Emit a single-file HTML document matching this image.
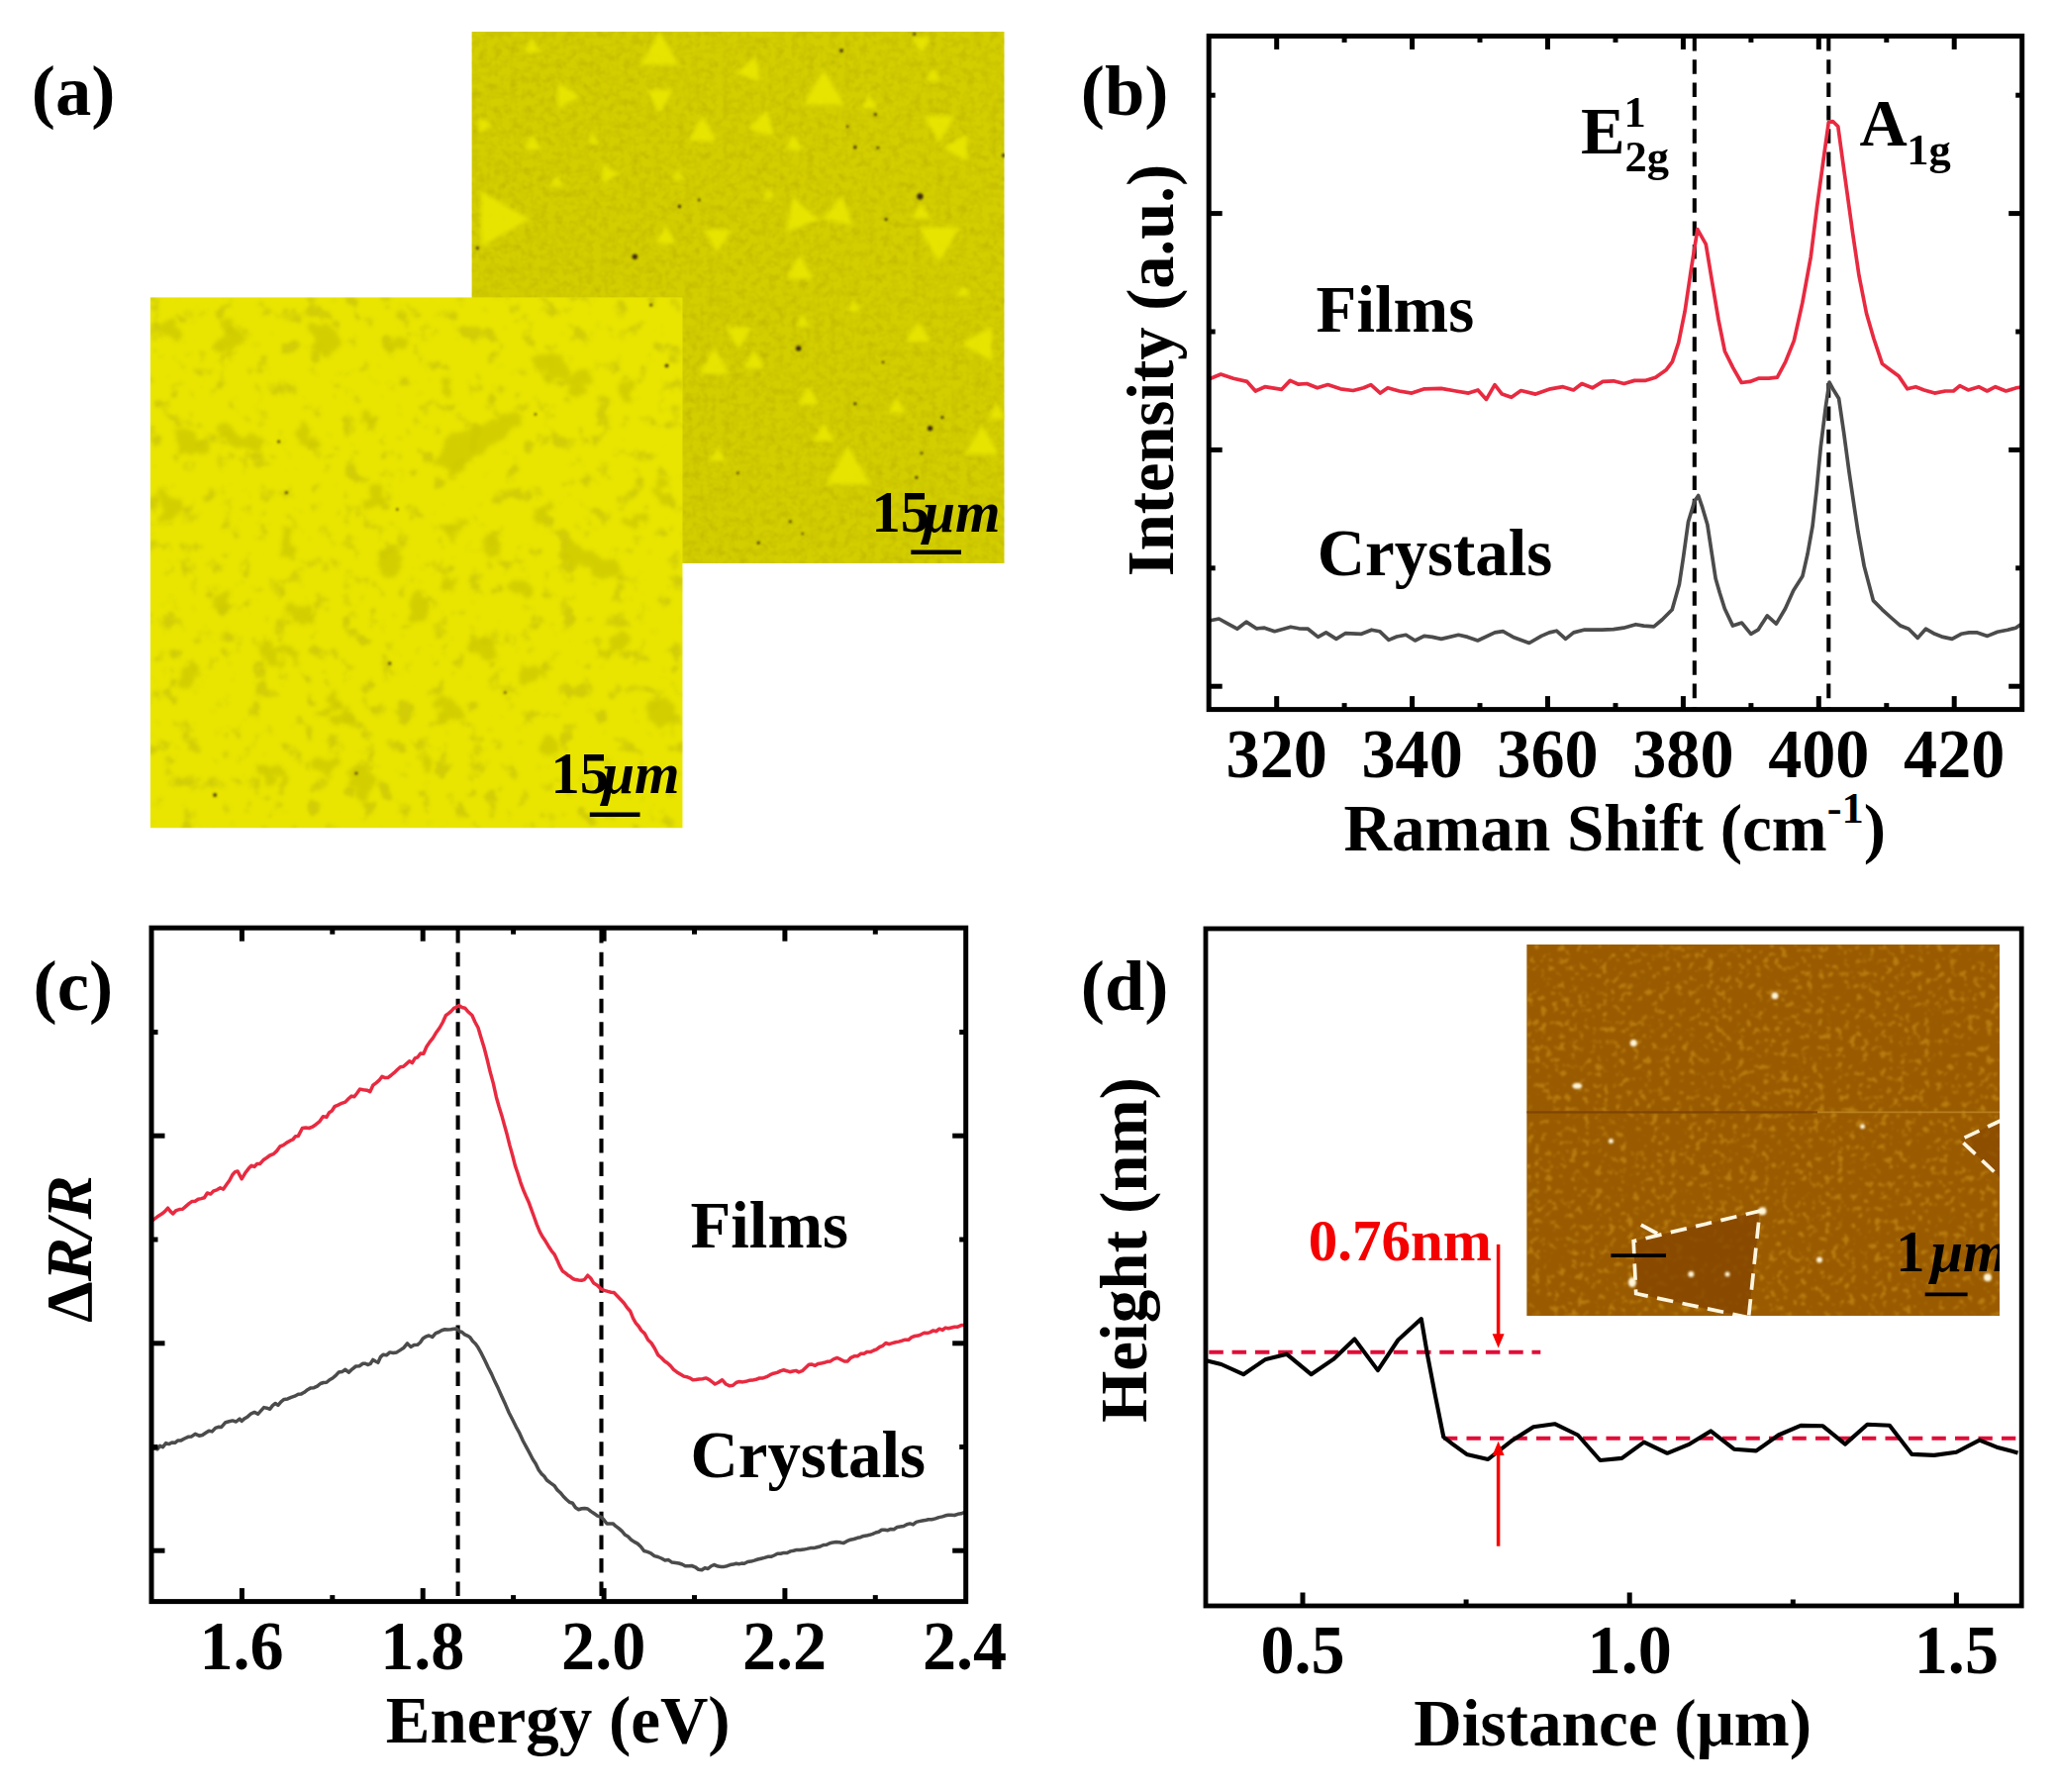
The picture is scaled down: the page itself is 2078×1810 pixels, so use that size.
<!DOCTYPE html>
<html lang="en"><head><meta charset="utf-8"><title>Figure</title>
<style>html,body{margin:0;padding:0;background:#fff}body{width:2078px;height:1810px;overflow:hidden}svg{display:block}text{font-family:'Liberation Serif','Times New Roman',serif;font-weight:bold}</style>
</head><body>
<svg width="2078" height="1810" viewBox="0 0 2078 1810">
<defs>
<filter id="blot" x="0" y="0" width="100%" height="100%" color-interpolation-filters="sRGB">
<feTurbulence type="fractalNoise" baseFrequency="0.055 0.055" numOctaves="3" seed="7" result="n"/>
<feColorMatrix in="n" type="matrix" values="0 0 0 0 0.80  0 0 0 0 0.78  0 0 0 0 0.03  4.2 4.2 0 0 -4.62" result="m"/>
<feComponentTransfer in="m" result="t"><feFuncA type="linear" slope="0.8" intercept="0"/></feComponentTransfer>
<feGaussianBlur in="t" stdDeviation="1.8" result="tb"/>
<feComposite in="tb" in2="SourceGraphic" operator="in" result="c"/>
<feMerge><feMergeNode in="SourceGraphic"/><feMergeNode in="c"/></feMerge>
</filter>
<filter id="grain" x="0" y="0" width="100%" height="100%" color-interpolation-filters="sRGB">
<feTurbulence type="fractalNoise" baseFrequency="0.13" numOctaves="2" seed="3" result="n"/>
<feColorMatrix in="n" type="matrix" values="0 0 0 0 0.74  0 0 0 0 0.71  0 0 0 0 0  0.9 0.9 0 0 -0.74" result="m"/>
<feComposite in="m" in2="SourceGraphic" operator="in" result="c"/>
<feMerge><feMergeNode in="SourceGraphic"/><feMergeNode in="c"/></feMerge>
</filter>
<filter id="afm" x="0" y="0" width="100%" height="100%" color-interpolation-filters="sRGB">
<feTurbulence type="fractalNoise" baseFrequency="0.16" numOctaves="2" seed="11" result="n"/>
<feColorMatrix in="n" type="matrix" values="0 0 0 0 0.76  0 0 0 0 0.53  0 0 0 0 0.08  5 5 0 0 -5.5" result="m"/>
<feComponentTransfer in="m" result="t"><feFuncA type="linear" slope="0.75" intercept="0"/></feComponentTransfer>
<feGaussianBlur in="t" stdDeviation="0.8" result="mb"/>
<feComposite in="mb" in2="SourceGraphic" operator="in" result="c"/>
<feMerge><feMergeNode in="SourceGraphic"/><feMergeNode in="c"/></feMerge>
</filter>
<filter id="rag" x="-5%" y="-5%" width="110%" height="110%">
<feTurbulence type="fractalNoise" baseFrequency="0.06" numOctaves="2" seed="21" result="n"/>
<feDisplacementMap in="SourceGraphic" in2="n" scale="22" xChannelSelector="R" yChannelSelector="G" result="d"/>
<feGaussianBlur in="d" stdDeviation="2.2"/>
</filter>
<filter id="soft" x="-5%" y="-5%" width="110%" height="110%"><feGaussianBlur stdDeviation="2.2"/></filter>
<filter id="soft2" x="-20%" y="-20%" width="140%" height="140%"><feGaussianBlur stdDeviation="1.0"/></filter>
<clipPath id="clipA1"><rect x="476.4" y="32" width="538.3" height="537.1"/></clipPath>
<clipPath id="clipA2"><rect x="151.7" y="300.2" width="538" height="536.2"/></clipPath>
<clipPath id="clipAFM"><rect x="1542.2" y="954" width="477.8" height="375"/></clipPath>
<clipPath id="clipB"><rect x="1221.2" y="36.4" width="821.5" height="680.2"/></clipPath>
<clipPath id="clipC"><rect x="153" y="937.2" width="822.7" height="680.4"/></clipPath>
<clipPath id="clipD"><rect x="1218" y="938" width="824.2" height="684"/></clipPath>
</defs>
<rect width="2078" height="1810" fill="#fff"/>
<text x="31.8" y="116.4" font-size="72.5" text-anchor="start" fill="#000"  style="">(a)</text>
<g clip-path="url(#clipA1)">
<rect x="476.4" y="32" width="538.3" height="537.1" fill="#d3ce00" filter="url(#grain)"/>
<g fill="#e9e700" opacity="0.9" filter="url(#soft)">
<polygon points="666.4,31.9 685.7,65.3 647.2,65.3"/>
<polygon points="763.7,56.8 768.2,82.6 743.6,73.7"/>
<polygon points="832.2,70 853,106.1 811.4,106.1"/>
<polygon points="586.4,97.1 563.7,110.2 563.7,84"/>
<polygon points="666.4,114.7 652.6,90.7 680.3,90.7"/>
<polygon points="537.5,38.2 546,52.9 529,52.9"/>
<polygon points="774.9,110.8 782.1,137.6 755.3,130.4"/>
<polygon points="709.4,117.1 724.1,142.4 694.8,142.4"/>
<polygon points="537.5,135.6 546.8,151.6 528.3,151.6"/>
<polygon points="498.2,126.3 483.5,134.8 483.5,117.8"/>
<polygon points="625.8,175.4 608.5,185.4 608.5,165.4"/>
<polygon points="801.5,135.6 810.7,151.6 792.2,151.6"/>
<polygon points="948.8,144.1 933.4,117.4 964.2,117.4"/>
<polygon points="976.8,135.4 976.8,163.2 952.8,149.3"/>
<polygon points="535.2,221.4 485.8,250 485.8,192.9"/>
<polygon points="800.6,199.1 827.8,221.9 794.5,234.1"/>
<polygon points="850.6,197.8 861.2,226.7 830.8,221.4"/>
<polygon points="724.8,255.9 710.9,231.8 738.6,231.8"/>
<polygon points="672.6,227.4 683.4,246.1 661.8,246.1"/>
<polygon points="948.8,265.4 928,229.4 969.6,229.4"/>
<polygon points="807.6,257.6 821.5,281.6 793.8,281.6"/>
<polygon points="746.2,353.2 733.1,330.5 759.3,330.5"/>
<polygon points="721.7,351 737.1,377.7 706.3,377.7"/>
<polygon points="761.6,353.2 772.4,371.9 750.8,371.9"/>
<polygon points="927.3,323.8 939.7,345.2 915,345.2"/>
<polygon points="971.3,347.3 1002,329.6 1002,365"/>
<polygon points="816.8,390.1 827.6,408.8 806,408.8"/>
<polygon points="905.9,401.1 915.1,417.1 896.6,417.1"/>
<polygon points="832.2,426.9 843,445.6 821.4,445.6"/>
<polygon points="724.8,451.1 733.2,465.7 716.3,465.7"/>
<polygon points="856.7,450.4 879.1,489.1 834.4,489.1"/>
<polygon points="991.8,429 1008.8,458.4 974.8,458.4"/>
<polygon points="930.4,54.1 921.2,38.1 939.7,38.1"/>
<polygon points="878.2,95 886.7,109.7 869.7,109.7"/>
<polygon points="930.4,204.6 939.7,220.6 921.2,220.6"/>
<polygon points="562.1,176.6 569,188.6 555.1,188.6"/>
<polygon points="973.4,287.1 980.3,299.1 966.4,299.1"/>
<polygon points="862.9,302.4 869.8,314.5 855.9,314.5"/>
<polygon points="810.7,317.8 817.6,329.8 803.8,329.8"/>
<polygon points="942.7,68.3 950.4,81.6 935,81.6"/>
<polygon points="1007.1,407.2 1016.4,423.2 997.9,423.2"/>
<polygon points="598.9,134.5 605.1,145.2 592.7,145.2"/>
<polygon points="684.9,171.3 691,182 678.7,182"/>
<polygon points="776.9,189.8 783.1,200.4 770.8,200.4"/>
</g>
<g fill="#3a2a08" filter="url(#soft2)">
<circle cx="850" cy="51.1" r="1.9"/>
<circle cx="923.7" cy="34.2" r="1.5"/>
<circle cx="884.4" cy="115.5" r="1.5"/>
<circle cx="856.1" cy="127.8" r="1.2"/>
<circle cx="863.8" cy="148.7" r="1.7"/>
<circle cx="886.8" cy="149.3" r="1.3"/>
<circle cx="686.4" cy="208.5" r="1.7"/>
<circle cx="706.3" cy="202.1" r="1.3"/>
<circle cx="929.5" cy="198.4" r="3.1"/>
<circle cx="895.1" cy="221.4" r="1.5"/>
<circle cx="641.3" cy="259.2" r="2.7"/>
<circle cx="482.3" cy="250.6" r="1.5"/>
<circle cx="657.8" cy="307.4" r="1.5"/>
<circle cx="806.7" cy="351.9" r="2.7"/>
<circle cx="672" cy="369.4" r="2.3"/>
<circle cx="892" cy="365.7" r="1.2"/>
<circle cx="863.8" cy="407.8" r="1.5"/>
<circle cx="951.9" cy="421.6" r="1.5"/>
<circle cx="939.6" cy="432.6" r="2.7"/>
<circle cx="931" cy="457.8" r="1.3"/>
<circle cx="925.8" cy="482.3" r="1.5"/>
<circle cx="629.6" cy="482.3" r="1.3"/>
<circle cx="745.3" cy="477.7" r="1.2"/>
<circle cx="798.4" cy="526.8" r="1.3"/>
<circle cx="810.7" cy="539.1" r="1.2"/>
<circle cx="766.2" cy="548.3" r="1.5"/>
<circle cx="1013.9" cy="157" r="1.9"/>
</g>
</g>
<text x="880.5" y="536.9" font-size="58.5">15<tspan font-style="italic" dx="-6.5">μm</tspan></text>
<line x1="920.3" y1="557.8" x2="971" y2="557.8" stroke="#000" stroke-width="4.6" />
<g clip-path="url(#clipA2)">
<rect x="151.7" y="300.2" width="538" height="536.2" fill="#e9e500" filter="url(#blot)"/>
<g fill="#cfca04" opacity="0.85" filter="url(#rag)">
<ellipse cx="172.9" cy="327.6" rx="10.4" ry="7.5" transform="rotate(-42 172.9 327.6)"/>
<ellipse cx="168.2" cy="335.8" rx="9.8" ry="11.6" transform="rotate(-43 168.2 335.8)"/>
<ellipse cx="172.6" cy="335.6" rx="9.7" ry="7.6" transform="rotate(-37 172.6 335.6)"/>
<ellipse cx="224.4" cy="346.1" rx="5.5" ry="9.9" transform="rotate(-17 224.4 346.1)"/>
<ellipse cx="232.3" cy="332.3" rx="6.6" ry="9.8" transform="rotate(43 232.3 332.3)"/>
<ellipse cx="234.7" cy="344.4" rx="6.9" ry="10.9" transform="rotate(-7 234.7 344.4)"/>
<ellipse cx="320.7" cy="335" rx="9.2" ry="10.9" transform="rotate(-39 320.7 335)"/>
<ellipse cx="326.7" cy="341.9" rx="13.7" ry="13.1" transform="rotate(-50 326.7 341.9)"/>
<ellipse cx="325.9" cy="336.5" rx="13.3" ry="13.1" transform="rotate(15 325.9 336.5)"/>
<ellipse cx="392.8" cy="346.3" rx="5.7" ry="5.4" transform="rotate(-21 392.8 346.3)"/>
<ellipse cx="394.2" cy="350.6" rx="4.9" ry="4.2" transform="rotate(30 394.2 350.6)"/>
<ellipse cx="403.1" cy="347.4" rx="7" ry="6.1" transform="rotate(-32 403.1 347.4)"/>
<ellipse cx="454.4" cy="386.8" rx="5.3" ry="4.6" transform="rotate(30 454.4 386.8)"/>
<ellipse cx="448.2" cy="386.7" rx="5.3" ry="5.8" transform="rotate(31 448.2 386.7)"/>
<ellipse cx="449.5" cy="394.6" rx="4.3" ry="4.2" transform="rotate(-21 449.5 394.6)"/>
<ellipse cx="369.7" cy="421.4" rx="6.6" ry="2.9" transform="rotate(-28 369.7 421.4)"/>
<ellipse cx="369.8" cy="417.3" rx="5.1" ry="2.9" transform="rotate(-14 369.8 417.3)"/>
<ellipse cx="374.7" cy="424.2" rx="4.1" ry="3.3" transform="rotate(-31 374.7 424.2)"/>
<ellipse cx="559.3" cy="372.8" rx="13.7" ry="11.8" transform="rotate(-41 559.3 372.8)"/>
<ellipse cx="548.7" cy="368" rx="10.7" ry="8.9" transform="rotate(-2 548.7 368)"/>
<ellipse cx="555.4" cy="367.3" rx="11.5" ry="10.2" transform="rotate(8 555.4 367.3)"/>
<ellipse cx="584" cy="393.4" rx="8.5" ry="9.8" transform="rotate(-38 584 393.4)"/>
<ellipse cx="588.9" cy="380.6" rx="11.3" ry="8.8" transform="rotate(-43 588.9 380.6)"/>
<ellipse cx="581.9" cy="379.8" rx="10.1" ry="9" transform="rotate(-45 581.9 379.8)"/>
<ellipse cx="636.8" cy="394.1" rx="6.7" ry="4.2" transform="rotate(17 636.8 394.1)"/>
<ellipse cx="633" cy="398.7" rx="8" ry="4.6" transform="rotate(-25 633 398.7)"/>
<ellipse cx="632.3" cy="392.2" rx="5.5" ry="5.3" transform="rotate(-19 632.3 392.2)"/>
<ellipse cx="197.4" cy="453" rx="9.4" ry="9.2" transform="rotate(-46 197.4 453)"/>
<ellipse cx="188.7" cy="448.9" rx="9.3" ry="9.5" transform="rotate(-17 188.7 448.9)"/>
<ellipse cx="186.2" cy="444.7" rx="13.6" ry="11.4" transform="rotate(22 186.2 444.7)"/>
<ellipse cx="240.7" cy="445.2" rx="13.9" ry="8.5" transform="rotate(45 240.7 445.2)"/>
<ellipse cx="231.4" cy="437.6" rx="12.4" ry="9.1" transform="rotate(23 231.4 437.6)"/>
<ellipse cx="253.5" cy="445.5" rx="11.8" ry="8" transform="rotate(32 253.5 445.5)"/>
<ellipse cx="305.6" cy="440.9" rx="4.7" ry="10.7" transform="rotate(-16 305.6 440.9)"/>
<ellipse cx="305.9" cy="440.3" rx="5.5" ry="11" transform="rotate(-15 305.9 440.3)"/>
<ellipse cx="312.8" cy="445.4" rx="4.2" ry="11.2" transform="rotate(-34 312.8 445.4)"/>
<ellipse cx="380.1" cy="500.3" rx="11" ry="8.8" transform="rotate(38 380.1 500.3)"/>
<ellipse cx="377.7" cy="504.7" rx="10.4" ry="9" transform="rotate(-23 377.7 504.7)"/>
<ellipse cx="380.7" cy="499.5" rx="7.5" ry="7.8" transform="rotate(-18 380.7 499.5)"/>
<ellipse cx="544.5" cy="517.5" rx="8.5" ry="8.9" transform="rotate(20 544.5 517.5)"/>
<ellipse cx="543.6" cy="519.6" rx="6" ry="7.8" transform="rotate(21 543.6 519.6)"/>
<ellipse cx="554.2" cy="512.5" rx="7.5" ry="5.5" transform="rotate(-46 554.2 512.5)"/>
<ellipse cx="462.6" cy="532" rx="3.8" ry="9.6" transform="rotate(49 462.6 532)"/>
<ellipse cx="458.5" cy="537.5" rx="4.2" ry="11.2" transform="rotate(-49 458.5 537.5)"/>
<ellipse cx="459.6" cy="537.2" rx="2.8" ry="13.8" transform="rotate(8 459.6 537.2)"/>
<ellipse cx="493.8" cy="555.1" rx="4.1" ry="7.9" transform="rotate(12 493.8 555.1)"/>
<ellipse cx="498.2" cy="547.9" rx="3.6" ry="11.2" transform="rotate(-4 498.2 547.9)"/>
<ellipse cx="495" cy="548.5" rx="5.5" ry="10.6" transform="rotate(-42 495 548.5)"/>
<ellipse cx="290.7" cy="548.7" rx="5.9" ry="11.3" transform="rotate(11 290.7 548.7)"/>
<ellipse cx="288.4" cy="546" rx="4.5" ry="11" transform="rotate(-28 288.4 546)"/>
<ellipse cx="291.5" cy="537.4" rx="6.6" ry="8" transform="rotate(-50 291.5 537.4)"/>
<ellipse cx="392.1" cy="562.1" rx="9.9" ry="9.4" transform="rotate(12 392.1 562.1)"/>
<ellipse cx="393.8" cy="573.1" rx="11.2" ry="9.3" transform="rotate(2 393.8 573.1)"/>
<ellipse cx="395.2" cy="568.6" rx="12.6" ry="11.6" transform="rotate(30 395.2 568.6)"/>
<ellipse cx="585.5" cy="561.4" rx="16.8" ry="11.3" transform="rotate(9 585.5 561.4)"/>
<ellipse cx="607.1" cy="572.8" rx="17" ry="11.1" transform="rotate(6 607.1 572.8)"/>
<ellipse cx="602.4" cy="570" rx="11.2" ry="12.6" transform="rotate(-4 602.4 570)"/>
<ellipse cx="456.4" cy="585.1" rx="4.4" ry="4.9" transform="rotate(36 456.4 585.1)"/>
<ellipse cx="454.8" cy="583.6" rx="5.6" ry="4.3" transform="rotate(23 454.8 583.6)"/>
<ellipse cx="454.6" cy="588.2" rx="5.5" ry="3.6" transform="rotate(32 454.6 588.2)"/>
<ellipse cx="424.6" cy="607.1" rx="8" ry="10" transform="rotate(-12 424.6 607.1)"/>
<ellipse cx="423.8" cy="616.5" rx="7.5" ry="12.5" transform="rotate(-39 423.8 616.5)"/>
<ellipse cx="422.6" cy="621" rx="9.1" ry="9" transform="rotate(24 422.6 621)"/>
<ellipse cx="308.7" cy="623.3" rx="9.3" ry="7.1" transform="rotate(-36 308.7 623.3)"/>
<ellipse cx="296.7" cy="620" rx="8.9" ry="7.8" transform="rotate(50 296.7 620)"/>
<ellipse cx="306.4" cy="616.7" rx="9" ry="8.7" transform="rotate(26 306.4 616.7)"/>
<ellipse cx="487" cy="650.9" rx="7.8" ry="8.6" transform="rotate(45 487 650.9)"/>
<ellipse cx="488.6" cy="653.4" rx="11.6" ry="11.2" transform="rotate(1 488.6 653.4)"/>
<ellipse cx="492" cy="659.7" rx="8.3" ry="8.9" transform="rotate(25 492 659.7)"/>
<ellipse cx="533.8" cy="678.2" rx="7.5" ry="6.1" transform="rotate(28 533.8 678.2)"/>
<ellipse cx="545.8" cy="680.7" rx="6.9" ry="4.1" transform="rotate(15 545.8 680.7)"/>
<ellipse cx="534.6" cy="687" rx="9.3" ry="6.8" transform="rotate(27 534.6 687)"/>
<ellipse cx="345.8" cy="723.1" rx="8.4" ry="9.1" transform="rotate(31 345.8 723.1)"/>
<ellipse cx="347.7" cy="722.7" rx="8.5" ry="7.5" transform="rotate(-20 347.7 722.7)"/>
<ellipse cx="335.1" cy="708.7" rx="5.6" ry="8.7" transform="rotate(24 335.1 708.7)"/>
<ellipse cx="461.4" cy="719.1" rx="11.5" ry="4.8" transform="rotate(17 461.4 719.1)"/>
<ellipse cx="453.4" cy="721.3" rx="7.8" ry="6.8" transform="rotate(-40 453.4 721.3)"/>
<ellipse cx="451.1" cy="713.7" rx="11.6" ry="4.9" transform="rotate(30 451.1 713.7)"/>
<ellipse cx="670.5" cy="723.7" rx="10" ry="13.7" transform="rotate(40 670.5 723.7)"/>
<ellipse cx="670.8" cy="719.9" rx="10.2" ry="12.4" transform="rotate(20 670.8 719.9)"/>
<ellipse cx="660.5" cy="716.6" rx="7.8" ry="9.9" transform="rotate(14 660.5 716.6)"/>
<ellipse cx="189.3" cy="684.8" rx="6.6" ry="8" transform="rotate(0 189.3 684.8)"/>
<ellipse cx="194.5" cy="687.3" rx="5.2" ry="7.6" transform="rotate(-43 194.5 687.3)"/>
<ellipse cx="193.3" cy="682.3" rx="6.6" ry="6.8" transform="rotate(-31 193.3 682.3)"/>
<ellipse cx="320" cy="769.6" rx="7.8" ry="4.1" transform="rotate(-21 320 769.6)"/>
<ellipse cx="326.9" cy="773.6" rx="8.2" ry="4.6" transform="rotate(7 326.9 773.6)"/>
<ellipse cx="333.4" cy="776.1" rx="9" ry="6.8" transform="rotate(-2 333.4 776.1)"/>
<ellipse cx="362.4" cy="786.2" rx="11.2" ry="7.7" transform="rotate(10 362.4 786.2)"/>
<ellipse cx="368.6" cy="799.8" rx="9.9" ry="9.9" transform="rotate(2 368.6 799.8)"/>
<ellipse cx="368.2" cy="783.7" rx="11.8" ry="8" transform="rotate(34 368.2 783.7)"/>
<ellipse cx="274.9" cy="783.1" rx="5.5" ry="6.5" transform="rotate(-40 274.9 783.1)"/>
<ellipse cx="278.2" cy="784.3" rx="6.7" ry="6" transform="rotate(39 278.2 784.3)"/>
<ellipse cx="268.8" cy="778" rx="5.5" ry="6.9" transform="rotate(-40 268.8 778)"/>
<ellipse cx="638.7" cy="524.1" rx="5.6" ry="5.4" transform="rotate(41 638.7 524.1)"/>
<ellipse cx="639.5" cy="525.5" rx="4.3" ry="5.3" transform="rotate(-33 639.5 525.5)"/>
<ellipse cx="644.4" cy="524.7" rx="6.9" ry="5.4" transform="rotate(15 644.4 524.7)"/>
<ellipse cx="670.5" cy="488.2" rx="4.7" ry="6.5" transform="rotate(-48 670.5 488.2)"/>
<ellipse cx="671.1" cy="501.5" rx="4.1" ry="8.1" transform="rotate(-23 671.1 501.5)"/>
<ellipse cx="665.2" cy="500.3" rx="6.3" ry="8.6" transform="rotate(-12 665.2 500.3)"/>
<ellipse cx="170.4" cy="513.5" rx="5.2" ry="11.4" transform="rotate(13 170.4 513.5)"/>
<ellipse cx="171.7" cy="516.9" rx="6.6" ry="12.3" transform="rotate(38 171.7 516.9)"/>
<ellipse cx="164.1" cy="501.8" rx="6.1" ry="12.5" transform="rotate(-23 164.1 501.8)"/>
<ellipse cx="272.5" cy="661.5" rx="13.6" ry="4.9" transform="rotate(46 272.5 661.5)"/>
<ellipse cx="292.2" cy="662.2" rx="13.6" ry="5.3" transform="rotate(46 292.2 662.2)"/>
<ellipse cx="285.8" cy="654.5" rx="11.1" ry="4.1" transform="rotate(-17 285.8 654.5)"/>
<ellipse cx="625.6" cy="650.2" rx="8.9" ry="6.8" transform="rotate(-10 625.6 650.2)"/>
<ellipse cx="617" cy="654.2" rx="6.8" ry="5" transform="rotate(-23 617 654.2)"/>
<ellipse cx="631" cy="644.8" rx="7" ry="6.9" transform="rotate(47 631 644.8)"/>
<ellipse cx="553" cy="753.1" rx="8.1" ry="9.3" transform="rotate(-29 553 753.1)"/>
<ellipse cx="552.6" cy="755.7" rx="6.5" ry="8.5" transform="rotate(-10 552.6 755.7)"/>
<ellipse cx="556" cy="756.4" rx="9" ry="9" transform="rotate(-41 556 756.4)"/>
<ellipse cx="224.1" cy="608.3" rx="8.9" ry="7.3" transform="rotate(46 224.1 608.3)"/>
<ellipse cx="225.7" cy="597.8" rx="6.2" ry="4.8" transform="rotate(-9 225.7 597.8)"/>
<ellipse cx="223.7" cy="605" rx="8.4" ry="7.6" transform="rotate(-30 223.7 605)"/>
<ellipse cx="524.4" cy="592.6" rx="8" ry="6.9" transform="rotate(37 524.4 592.6)"/>
<ellipse cx="534.3" cy="600.5" rx="7" ry="4.8" transform="rotate(35 534.3 600.5)"/>
<ellipse cx="530.9" cy="595.7" rx="7.6" ry="6.4" transform="rotate(0 530.9 595.7)"/>
<ellipse cx="433.2" cy="774.3" rx="6.6" ry="5.1" transform="rotate(45 433.2 774.3)"/>
<ellipse cx="432.3" cy="768.7" rx="7.9" ry="4.6" transform="rotate(-5 432.3 768.7)"/>
<ellipse cx="429.9" cy="770.9" rx="6.7" ry="4.6" transform="rotate(29 429.9 770.9)"/>
<polygon points="436.6,466.9 455,479.2 528.7,423.9 513.3,414.7 476.5,433.1 448.9,448.5"/>
</g>
<g fill="#4a3a08" filter="url(#soft2)">
<circle cx="673.5" cy="369.3" r="1.9"/>
<circle cx="281.6" cy="446" r="1.5"/>
<circle cx="289.3" cy="497.6" r="1.5"/>
<circle cx="217.1" cy="803" r="1.9"/>
<circle cx="359.9" cy="780.9" r="1.5"/>
<circle cx="393.6" cy="670.1" r="1.5"/>
<circle cx="722" cy="480.7" r="1.3"/>
<circle cx="540.9" cy="418.4" r="1.2"/>
<circle cx="401.3" cy="514.5" r="1.2"/>
<circle cx="657.6" cy="307.9" r="1.5"/>
<circle cx="510.3" cy="699.5" r="1.2"/>
</g>
</g>
<text x="556.5" y="800.5" font-size="58.5">15<tspan font-style="italic" dx="-6.5">μm</tspan></text>
<line x1="595.8" y1="822.8" x2="646.5" y2="822.8" stroke="#000" stroke-width="4.6" />
<text x="1091.8" y="116.4" font-size="72.5" text-anchor="start" fill="#000"  style="">(b)</text>
<g clip-path="url(#clipB)">
<line x1="1711.8" y1="36.8" x2="1711.8" y2="716.6" stroke="#000" stroke-width="4.1" stroke-dasharray="14.6 8.75"/>
<line x1="1847.3" y1="36.8" x2="1847.3" y2="716.6" stroke="#000" stroke-width="4.1" stroke-dasharray="14.6 8.75"/>
<polyline points="1221.2,627 1231.4,625 1240.6,630.1 1249.8,635.2 1259,628.1 1269.2,634.8 1277.4,634.2 1287.6,637.7 1303.9,633.2 1312.1,634.8 1321.3,635.2 1331.5,643.4 1339.6,638.9 1349.9,645.4 1359,639.7 1375.4,640.3 1385.6,636.2 1393.7,637.7 1402.9,646.4 1411.1,643 1420.3,641.3 1429.5,647 1438.7,642.4 1446.8,643.4 1456,645.4 1473.4,641.3 1482.6,643.4 1492.8,647 1510.1,638.9 1518.3,637.7 1528.5,643.4 1544.8,649.5 1557.1,642.4 1565.2,638.9 1572.4,637.2 1581.6,645.4 1589.7,638.9 1600,636.2 1618.3,636.2 1630,635.6 1640.2,634.2 1652.5,630.7 1660.6,632.1 1670.8,632.8 1679,626 1689.2,615.8 1696.4,590.3 1700.4,563.7 1705.5,527 1711.7,506.6 1715.7,500.5 1719.8,512.7 1724.9,530.1 1730,563.7 1733.1,584.2 1737.2,598.5 1742.3,614.8 1750.5,632.1 1759.6,629.1 1768.8,640.3 1776,636.2 1785.2,621.9 1794.4,630.1 1803.5,614.8 1811.7,596.4 1820.9,582.1 1826,559.7 1831.1,531.1 1835.2,494.3 1839.3,451.5 1844.4,410.6 1848,386.1 1852.5,394.3 1857.6,402.5 1862.7,437.2 1867.9,476 1873,510.7 1877,537.2 1883.2,571.9 1892.4,606.6 1901.5,615.8 1911.7,625 1919.9,632.1 1928.1,635.2 1937.3,644.4 1945.4,635.2 1954.6,640.3 1962.8,643.4 1972,645.4 1981.2,640.3 1989.3,638.9 1997.5,638.9 2007.7,642.4 2017.9,638.3 2028.1,636.2 2036.3,634.2 2042.4,630.1" fill="none" stroke="#4b4b4b" stroke-width="3.7" stroke-linejoin="round" stroke-linecap="butt" />
<polyline points="1221.7,382.7 1233.3,378 1246,382.2 1259.8,385.4 1268.3,395 1277.8,390.7 1294.8,393.3 1303.3,384.4 1311.8,388.2 1320.2,387.5 1330.8,391.8 1341.4,388.6 1354.2,392.8 1366.9,394.5 1377.5,391.8 1384.9,388.6 1394.4,397.1 1401.9,391.8 1413.5,395 1426.2,397.1 1439,392.8 1455.9,392.4 1470.8,395 1483.5,397.1 1493,393.9 1501.5,403.4 1510,388.6 1517.4,398.1 1526.9,401.3 1536.5,394.5 1551.3,398.1 1566.2,392.8 1578.9,390.7 1589.5,393.9 1598,387.5 1608.6,391.8 1619.2,385.4 1630,384.8 1640.6,387.5 1651.2,384.4 1661.8,384.4 1672.4,381.2 1683,373.8 1689.4,365.3 1695.7,346.2 1702.1,314.4 1708.4,272 1714.8,231.7 1723.3,246.6 1729.6,284.7 1736,322.9 1742.4,354.7 1750.8,371.6 1759.3,386.5 1767.8,385.4 1776.3,382.2 1786.9,382.2 1795.4,381.2 1803.8,365.3 1812.3,344.1 1820.8,305.9 1829.3,259.3 1835.6,208.4 1842,161.8 1847.3,123.6 1851.5,122.5 1856.8,127.8 1863.2,174.5 1871.7,236 1878,278.4 1885.5,316.5 1892.9,342 1901.4,367.4 1909.8,373.8 1918.3,380.1 1926.8,392.8 1935.3,390.7 1943.8,393.9 1954.4,397.1 1965,395 1973.4,395 1979.8,389.7 1988.3,393.9 1998.9,390.7 2007.4,395 2015.8,390.7 2026.4,395 2037,391.8 2043.4,390.7" fill="none" stroke="#e82a40" stroke-width="3.7" stroke-linejoin="round" stroke-linecap="butt" />
</g>
<line x1="1289.7" y1="716.6" x2="1289.7" y2="703.1" stroke="#000" stroke-width="5" />
<line x1="1289.7" y1="36.4" x2="1289.7" y2="49.9" stroke="#000" stroke-width="5" />
<line x1="1358.1" y1="716.6" x2="1358.1" y2="710.1" stroke="#000" stroke-width="5" />
<line x1="1358.1" y1="36.4" x2="1358.1" y2="42.9" stroke="#000" stroke-width="5" />
<line x1="1426.6" y1="716.6" x2="1426.6" y2="703.1" stroke="#000" stroke-width="5" />
<line x1="1426.6" y1="36.4" x2="1426.6" y2="49.9" stroke="#000" stroke-width="5" />
<line x1="1495" y1="716.6" x2="1495" y2="710.1" stroke="#000" stroke-width="5" />
<line x1="1495" y1="36.4" x2="1495" y2="42.9" stroke="#000" stroke-width="5" />
<line x1="1563.5" y1="716.6" x2="1563.5" y2="703.1" stroke="#000" stroke-width="5" />
<line x1="1563.5" y1="36.4" x2="1563.5" y2="49.9" stroke="#000" stroke-width="5" />
<line x1="1632" y1="716.6" x2="1632" y2="710.1" stroke="#000" stroke-width="5" />
<line x1="1632" y1="36.4" x2="1632" y2="42.9" stroke="#000" stroke-width="5" />
<line x1="1700.4" y1="716.6" x2="1700.4" y2="703.1" stroke="#000" stroke-width="5" />
<line x1="1700.4" y1="36.4" x2="1700.4" y2="49.9" stroke="#000" stroke-width="5" />
<line x1="1768.9" y1="716.6" x2="1768.9" y2="710.1" stroke="#000" stroke-width="5" />
<line x1="1768.9" y1="36.4" x2="1768.9" y2="42.9" stroke="#000" stroke-width="5" />
<line x1="1837.3" y1="716.6" x2="1837.3" y2="703.1" stroke="#000" stroke-width="5" />
<line x1="1837.3" y1="36.4" x2="1837.3" y2="49.9" stroke="#000" stroke-width="5" />
<line x1="1905.8" y1="716.6" x2="1905.8" y2="710.1" stroke="#000" stroke-width="5" />
<line x1="1905.8" y1="36.4" x2="1905.8" y2="42.9" stroke="#000" stroke-width="5" />
<line x1="1974.2" y1="716.6" x2="1974.2" y2="703.1" stroke="#000" stroke-width="5" />
<line x1="1974.2" y1="36.4" x2="1974.2" y2="49.9" stroke="#000" stroke-width="5" />
<line x1="1221.2" y1="96.2" x2="1227.7" y2="96.2" stroke="#000" stroke-width="5" />
<line x1="2042.7" y1="96.2" x2="2036.2" y2="96.2" stroke="#000" stroke-width="5" />
<line x1="1221.2" y1="215.6" x2="1234.7" y2="215.6" stroke="#000" stroke-width="5" />
<line x1="2042.7" y1="215.6" x2="2029.2" y2="215.6" stroke="#000" stroke-width="5" />
<line x1="1221.2" y1="335" x2="1227.7" y2="335" stroke="#000" stroke-width="5" />
<line x1="2042.7" y1="335" x2="2036.2" y2="335" stroke="#000" stroke-width="5" />
<line x1="1221.2" y1="454.4" x2="1234.7" y2="454.4" stroke="#000" stroke-width="5" />
<line x1="2042.7" y1="454.4" x2="2029.2" y2="454.4" stroke="#000" stroke-width="5" />
<line x1="1221.2" y1="573.8" x2="1227.7" y2="573.8" stroke="#000" stroke-width="5" />
<line x1="2042.7" y1="573.8" x2="2036.2" y2="573.8" stroke="#000" stroke-width="5" />
<line x1="1221.2" y1="693.2" x2="1234.7" y2="693.2" stroke="#000" stroke-width="5" />
<line x1="2042.7" y1="693.2" x2="2029.2" y2="693.2" stroke="#000" stroke-width="5" />
<rect x="1221.2" y="36.4" width="821.5" height="680.2" fill="none" stroke="#000" stroke-width="5"/>
<text transform="translate(1289.7,785.2) scale(1,1.025)" font-size="68.2" text-anchor="middle">320</text>
<text transform="translate(1426.6,785.2) scale(1,1.025)" font-size="68.2" text-anchor="middle">340</text>
<text transform="translate(1563.5,785.2) scale(1,1.025)" font-size="68.2" text-anchor="middle">360</text>
<text transform="translate(1700.4,785.2) scale(1,1.025)" font-size="68.2" text-anchor="middle">380</text>
<text transform="translate(1837.3,785.2) scale(1,1.025)" font-size="68.2" text-anchor="middle">400</text>
<text transform="translate(1974.2,785.2) scale(1,1.025)" font-size="68.2" text-anchor="middle">420</text>
<text x="1631.3" y="858.5" font-size="67.1" text-anchor="middle">Raman Shift (cm<tspan font-size="44.5" dy="-28">-1</tspan><tspan dy="28">)</tspan></text>
<text transform="translate(1184.9,374) rotate(-90)" font-size="66.6" text-anchor="middle">Intensity (a.u.)</text>
<text x="1329.6" y="334.5" font-size="66.8" text-anchor="start" fill="#000"  style="">Films</text>
<text x="1330.8" y="581.1" font-size="66.8" text-anchor="start" fill="#000"  style="">Crystals</text>
<text x="1596.9" y="155.1" font-size="66.8">E<tspan font-size="44.5" dy="18.2">2g</tspan></text>
<text x="1640.4" y="127.8" font-size="44.5">1</text>
<text x="1878.5" y="146.9" font-size="66.8">A<tspan font-size="44.5" dy="19" dx="-0.5">1g</tspan></text>
<text x="33.6" y="1020.3" font-size="72.5" text-anchor="start" fill="#000"  style="">(c)</text>
<g clip-path="url(#clipC)">
<line x1="462.6" y1="938.1" x2="462.6" y2="1617.6" stroke="#000" stroke-width="4.1" stroke-dasharray="14.5 9.05"/>
<line x1="607.5" y1="938.1" x2="607.5" y2="1617.6" stroke="#000" stroke-width="4.1" stroke-dasharray="14.5 9.05"/>
<polyline points="153.3,1463.7 156.1,1463 158.9,1463.8 161.7,1460.4 164.5,1461.6 167.6,1457.6 170.6,1458.6 173.7,1457 176.7,1457.3 179.8,1454.9 182.9,1454.9 186.4,1453 190,1451.3 193.6,1450.9 197.2,1448.3 201.2,1450.2 204.5,1449.5 207.8,1447.3 211,1445.2 214.3,1445.9 217.6,1442.4 220.6,1441.3 223.7,1441.4 227.8,1436.7 231.4,1435.8 234.9,1434.9 238.5,1436 242.1,1433.1 244.1,1435.3 247.2,1432.7 250.2,1430.9 253.7,1427.8 257.1,1426.4 260.5,1428.2 262.5,1426.1 266.6,1421.6 269.6,1422.2 272.7,1423.3 275.4,1419.6 278.2,1417.5 280.9,1419.4 283.9,1415.8 287,1413.4 290.6,1412.9 294.1,1411.4 297.7,1410.2 301.3,1408.2 304.4,1407.9 307.4,1406.3 310.7,1403.7 313.9,1401.9 317.2,1401.7 320.5,1400.2 323.7,1397.5 326.8,1396.5 329.9,1396.3 332.9,1393.7 336,1392 339.1,1389.4 342.1,1386.1 345.5,1385.6 348.9,1383.3 352.3,1386.1 355.9,1382.8 359.5,1380 363.1,1379.7 366.6,1377.3 369.2,1377.3 371.7,1378.5 374.3,1377.3 376.8,1373.4 379.4,1375 381.9,1376.3 384.5,1370.6 387,1368.3 390.4,1368.8 393.8,1365.9 397.2,1366.5 400.8,1365.9 404.4,1363.6 408,1361.2 411.5,1356.9 414.9,1360.4 418.3,1358.4 421.7,1358.3 424.5,1356 427.2,1352 429.9,1350.2 433.3,1349 436.7,1350.5 440.1,1346.6 443.2,1345.5 446.2,1343.7 449.3,1342.8 452.4,1342.9 455.4,1342.8 458.5,1342.2 461.2,1342 463.9,1344.6 466.7,1345.5 469.4,1347.9 472.1,1349.1 474.8,1350.7 477.6,1354.8 480.3,1357.3 483,1361.1 486.4,1367.2 489.8,1374.1 493.2,1381.2 496.6,1387.9 500,1395.6 503.4,1402.6 507,1410.8 510.6,1418.6 514.1,1426.8 517.7,1433.8 521.3,1441.1 524.9,1447.7 528.4,1455.5 532,1462.1 535.1,1467.9 538.1,1473.8 541.2,1478.4 544.2,1484.7 547,1488.6 549.7,1491 552.4,1495 556.2,1497.9 560,1500.6 563,1504.9 566.1,1507.7 569.2,1511.5 572.2,1514.5 575.3,1517.3 578.4,1518.2 581.4,1522.8 584.5,1524.7 587.6,1523.8 590.6,1523.5 593.7,1524 597,1526.6 600.3,1528.8 603.6,1531.1 607,1532.1 610,1535.1 613.1,1539 616.1,1539.1 619.2,1538.9 622.3,1541.7 625.3,1543.9 628.4,1546.6 631.5,1550.3 634.5,1552 637.6,1555.2 640.8,1557.4 644.1,1559.1 647.4,1562.2 650.6,1566.5 653.9,1567.4 657.5,1568.8 661.1,1571.6 664.6,1572.5 668.2,1574 671.8,1576.1 675.4,1575.6 678.9,1578.1 682.5,1578.5 685.8,1579 689,1580 692.3,1581.8 695.6,1581.8 698.8,1581.5 702.2,1582.8 705.6,1585.2 709,1585.8 712.1,1583.6 715.2,1584.5 718.2,1582 721.3,1580.5 725.4,1582.1 728.4,1582.4 731.5,1582.4 734.6,1581.7 737.6,1580.6 740.7,1580.1 743.7,1579.3 746.5,1579.7 749.2,1579.1 751.9,1579.2 755.3,1577.5 758.7,1577.1 762.1,1576.1 765.5,1575 768.9,1574.2 772.3,1573.4 775.6,1572.3 778.9,1572.3 782.1,1571 785.4,1569.2 788.7,1569.2 791.9,1568.4 795.2,1568.5 798.5,1566.9 801.7,1566.3 805,1565.4 808.4,1565.4 811.8,1565.1 815.2,1564.4 818.6,1563.6 822,1563.6 825.4,1562.8 828.6,1562 831.8,1560.5 835,1560.3 838.2,1558.7 841.5,1557.9 844.7,1557.6 847.9,1557.8 852,1558.6 855.5,1556.7 859.1,1555.2 862.7,1554.5 866.2,1553.3 869.3,1552.7 872.4,1551.4 875.4,1551.1 878.5,1550.3 881.6,1549.3 884.6,1548 887.7,1547.3 890.7,1545.2 893.8,1545.3 896.9,1545.7 899.9,1544.4 903,1544.7 906.3,1542.6 909.5,1542.1 912.8,1541.6 916.1,1539.7 919.3,1538.9 922.4,1539.9 925.5,1537.4 928.5,1536.6 931.6,1536 934.6,1535.6 937.7,1534.8 941.3,1534.7 944.9,1533.9 948.4,1532.6 952,1531.9 955.1,1530.8 958.1,1530.3 961.2,1530.2 964.2,1530.5 967.6,1529.3 971.1,1528.8 974.5,1527.4" fill="none" stroke="#4b4b4b" stroke-width="3.5" stroke-linejoin="round" stroke-linecap="butt" />
<polyline points="153.3,1233.2 156.8,1230.6 160.4,1227.9 163.5,1226.1 166.5,1223.6 169.6,1220.2 172.2,1223.6 174.7,1225.9 178,1222.6 181.2,1221.6 184.5,1221.3 187.8,1218.4 191,1215.6 194.1,1213.4 197.2,1213.2 200.2,1211.2 203.3,1210.6 206.4,1209.8 209.4,1205 212.7,1206.1 215.9,1202.8 219.2,1201.8 222.5,1199.8 225.7,1201.1 228.8,1196.5 231.9,1192.2 234.9,1186.5 237.5,1183.6 240,1182.9 244.1,1190.8 247.7,1184.8 251.3,1180.1 254.1,1177.3 256.9,1178.5 259.7,1175.5 262.5,1175.6 265.9,1171.8 269.3,1169.5 272.7,1167 276.1,1165.7 279.5,1162.6 282.9,1158 286.3,1156.7 289.7,1154.1 293.1,1152.2 295.8,1151 298.6,1147.7 301.3,1147.4 305.4,1139.5 308.8,1139 312.2,1139.5 315.6,1138.2 319.2,1135.7 322.7,1132.9 326.3,1127.7 329.9,1128.3 332.6,1123.7 335.3,1122 338,1117.7 341.6,1116.1 345.2,1114.3 348.8,1113.1 352.3,1109.5 355.1,1107.1 357.9,1107.8 360.8,1104 363.6,1100.1 367.1,1100.8 370.7,1101.2 373.8,1102.7 376.8,1096.2 379.9,1093.8 383,1091.2 386,1087.3 389.1,1088.6 392.1,1088.4 395.2,1086 398.3,1083.4 401.3,1080.5 404.4,1077.8 407.5,1077.3 410.5,1074.6 413.6,1071.7 416.4,1073.6 419.2,1068.9 422,1067.8 424.8,1064 427.9,1064.3 430.9,1057.3 434,1052.6 437.4,1048.3 440.8,1042.7 444.2,1038 447.3,1032.5 450.3,1025.7 453.1,1023.6 455.8,1021.4 458.5,1018.4 461,1017.3 463.6,1015.6 466.7,1017.5 469.7,1018.2 473.3,1022.3 476.9,1025.5 479.9,1032.2 483,1038 486.1,1048.6 489.1,1058.2 492.2,1070.2 495.2,1082.8 498.3,1094.1 501.4,1108.2 504.1,1117.7 506.8,1126.4 509.5,1136.2 512.3,1146.3 515,1157.1 517.7,1166.7 520.4,1177.4 523.1,1185.2 525.9,1194.3 528.6,1201.7 531.3,1208 534,1213.9 536.8,1221.7 539.5,1229 542.2,1236.6 545.3,1244.2 548.3,1249.6 551.2,1253.8 554.1,1258.7 557.1,1263.3 560,1266.8 562.7,1272.4 565.4,1278.6 568.2,1283.7 570.9,1285.6 573.6,1287.9 576.3,1289.6 579.1,1291.8 581.8,1292.6 584.5,1293 587.6,1293.3 590.6,1292.3 593.7,1288.2 596.7,1291 599.8,1296.1 603.4,1298.2 607,1301.9 610.5,1303.3 614.1,1304.4 617.2,1305.2 620.2,1305.6 623.8,1309.2 627.4,1313 630.4,1316.3 633.5,1320.8 636.6,1324.2 639.6,1331.6 642.3,1336.3 645.1,1339.5 647.8,1343.8 651.2,1346.9 654.6,1353.3 658,1356.5 661.4,1362 664.8,1368.6 668.2,1371.5 671.3,1374.8 674.3,1376.8 677.4,1379.6 680.5,1383.3 683.9,1385.9 687.3,1388 690.7,1390.1 693.7,1390.7 696.8,1391.8 699.9,1393.7 702.9,1393.5 706.3,1393 709.7,1392.7 713.1,1391.9 716.2,1393.3 719.2,1395.7 722.3,1398 725.9,1396.2 729.5,1393.7 733.3,1398 737.2,1399.8 740.5,1399.3 743.7,1396.5 747,1395.4 750.3,1395.9 753.5,1395.3 756.8,1394.3 760.1,1394.1 763.7,1393.3 767.2,1392 770.8,1391.9 774.4,1390.7 777.9,1388.7 781.5,1387.2 785.1,1386.4 788.7,1384.6 791.7,1383.8 794.8,1384.7 797.9,1385.7 800.9,1385 804,1384.4 807,1385.9 810.4,1384.7 813.8,1381.5 817.2,1378.3 820.3,1378.1 823.4,1379.3 826.4,1377.4 829.5,1377.1 832.6,1376.3 835.6,1375.3 839,1374.9 842.4,1372.6 845.8,1371.5 849.4,1373.2 853,1375 856.3,1374.9 859.6,1371.3 862.9,1369.8 866.2,1369.8 869.5,1367.3 872.8,1367.2 876,1365.4 879.3,1365.6 882.6,1364 885.6,1362.9 888.7,1360.5 891.8,1359.3 894.8,1356.5 898.1,1357.7 901.4,1356.7 904.6,1355.8 907.9,1355.1 911.2,1354.2 914.4,1353.2 917.7,1353.3 921,1350.6 924.2,1349.5 927.5,1349.1 930.6,1347.8 933.6,1346.3 936.7,1346.6 939.7,1345.6 942.8,1343.9 945.9,1344.7 948.9,1342.2 952,1343.5 955.1,1341.1 958.1,1341.8 961.2,1341 964.2,1340.3 967.6,1340.2 971.1,1338.6 974.5,1338.5" fill="none" stroke="#e82a40" stroke-width="3.5" stroke-linejoin="round" stroke-linecap="butt" />
</g>
<line x1="244.4" y1="1617.6" x2="244.4" y2="1604.1" stroke="#000" stroke-width="5" />
<line x1="244.4" y1="937.2" x2="244.4" y2="950.7" stroke="#000" stroke-width="5" />
<line x1="335.8" y1="1617.6" x2="335.8" y2="1611.1" stroke="#000" stroke-width="5" />
<line x1="335.8" y1="937.2" x2="335.8" y2="943.7" stroke="#000" stroke-width="5" />
<line x1="427.2" y1="1617.6" x2="427.2" y2="1604.1" stroke="#000" stroke-width="5" />
<line x1="427.2" y1="937.2" x2="427.2" y2="950.7" stroke="#000" stroke-width="5" />
<line x1="518.6" y1="1617.6" x2="518.6" y2="1611.1" stroke="#000" stroke-width="5" />
<line x1="518.6" y1="937.2" x2="518.6" y2="943.7" stroke="#000" stroke-width="5" />
<line x1="610.1" y1="1617.6" x2="610.1" y2="1604.1" stroke="#000" stroke-width="5" />
<line x1="610.1" y1="937.2" x2="610.1" y2="950.7" stroke="#000" stroke-width="5" />
<line x1="701.5" y1="1617.6" x2="701.5" y2="1611.1" stroke="#000" stroke-width="5" />
<line x1="701.5" y1="937.2" x2="701.5" y2="943.7" stroke="#000" stroke-width="5" />
<line x1="792.9" y1="1617.6" x2="792.9" y2="1604.1" stroke="#000" stroke-width="5" />
<line x1="792.9" y1="937.2" x2="792.9" y2="950.7" stroke="#000" stroke-width="5" />
<line x1="884.3" y1="1617.6" x2="884.3" y2="1611.1" stroke="#000" stroke-width="5" />
<line x1="884.3" y1="937.2" x2="884.3" y2="943.7" stroke="#000" stroke-width="5" />
<line x1="153" y1="1042.5" x2="159.5" y2="1042.5" stroke="#000" stroke-width="5" />
<line x1="975.7" y1="1042.5" x2="969.2" y2="1042.5" stroke="#000" stroke-width="5" />
<line x1="153" y1="1147.2" x2="166.5" y2="1147.2" stroke="#000" stroke-width="5" />
<line x1="975.7" y1="1147.2" x2="962.2" y2="1147.2" stroke="#000" stroke-width="5" />
<line x1="153" y1="1252" x2="159.5" y2="1252" stroke="#000" stroke-width="5" />
<line x1="975.7" y1="1252" x2="969.2" y2="1252" stroke="#000" stroke-width="5" />
<line x1="153" y1="1356.8" x2="166.5" y2="1356.8" stroke="#000" stroke-width="5" />
<line x1="975.7" y1="1356.8" x2="962.2" y2="1356.8" stroke="#000" stroke-width="5" />
<line x1="153" y1="1461.5" x2="159.5" y2="1461.5" stroke="#000" stroke-width="5" />
<line x1="975.7" y1="1461.5" x2="969.2" y2="1461.5" stroke="#000" stroke-width="5" />
<line x1="153" y1="1566.2" x2="166.5" y2="1566.2" stroke="#000" stroke-width="5" />
<line x1="975.7" y1="1566.2" x2="962.2" y2="1566.2" stroke="#000" stroke-width="5" />
<rect x="153" y="937.2" width="822.7" height="680.4" fill="none" stroke="#000" stroke-width="5"/>
<text transform="translate(244,1686.2) scale(1,1.025)" font-size="68.2" text-anchor="middle">1.6</text>
<text transform="translate(426.8,1686.2) scale(1,1.025)" font-size="68.2" text-anchor="middle">1.8</text>
<text transform="translate(609.7,1686.2) scale(1,1.025)" font-size="68.2" text-anchor="middle">2.0</text>
<text transform="translate(792.5,1686.2) scale(1,1.025)" font-size="68.2" text-anchor="middle">2.2</text>
<text transform="translate(974.5,1686.2) scale(1,1.025)" font-size="68.2" text-anchor="middle">2.4</text>
<text x="563.7" y="1760.2" font-size="67" text-anchor="middle" fill="#000"  style="">Energy (eV)</text>
<text transform="translate(92.2,1261.6) rotate(-90)" font-size="66.5" text-anchor="middle">Δ<tspan font-style="italic">R/R</tspan></text>
<text x="697.5" y="1259.9" font-size="66.8" text-anchor="start" fill="#000"  style="">Films</text>
<text x="697.5" y="1492.3" font-size="66.8" text-anchor="start" fill="#000"  style="">Crystals</text>
<text x="1091.8" y="1020.3" font-size="72.5" text-anchor="start" fill="#000"  style="">(d)</text>
<g clip-path="url(#clipAFM)">
<rect x="1542.2" y="954" width="477.8" height="375" fill="#9a5b00" filter="url(#afm)"/>
<polygon points="1777.8,1223.2 1650.2,1253.6 1652.7,1306.6 1766.5,1330.7" fill="#854600" opacity="0.8"/>
<polygon points="2023,1131 1980.1,1151.2 2023,1191.6" fill="#854600" opacity="0.6"/>
<line x1="1542.2" y1="1123.4" x2="1836" y2="1123.4" stroke="#7a4000" stroke-width="2.4" opacity="0.8"/>
<line x1="1836" y1="1123.4" x2="2020" y2="1123.4" stroke="#c08a2a" stroke-width="1.8" opacity="0.75"/>
<polyline points="1766.5,1330.7 1652.7,1306.6 1650.2,1253.6 1777.8,1223.2 1766.5,1330.7" fill="none" stroke="#fff6e0" stroke-width="3.7" stroke-dasharray="16.5 9.5"/>
<polyline points="1657.8,1237.1 1674.2,1246" fill="none" stroke="#fff8e8" stroke-width="3.8"/>
<polyline points="2023,1131 1980.1,1151.2 2023,1191.6" fill="none" stroke="#fff6e0" stroke-width="3.7" stroke-dasharray="16.5 9.5"/>
<g fill="#fff6d8" filter="url(#soft2)">
<ellipse cx="1593.3" cy="1096.8" rx="5" ry="3"/>
<ellipse cx="1793" cy="1005.8" rx="3.5" ry="3.5"/>
<ellipse cx="1650.2" cy="1053.4" rx="3.5" ry="3.5"/>
<ellipse cx="1838" cy="1272.5" rx="3" ry="3"/>
<ellipse cx="1708.3" cy="1286.9" rx="3" ry="3"/>
<ellipse cx="1745" cy="1286.9" rx="2.5" ry="2.5"/>
<ellipse cx="2007.9" cy="1290.2" rx="4" ry="4"/>
<ellipse cx="1648.9" cy="1295.3" rx="4" ry="5"/>
<ellipse cx="1780.4" cy="1223.2" rx="4" ry="4"/>
<ellipse cx="1881.5" cy="1137.8" rx="2.5" ry="2.5"/>
<ellipse cx="1627.4" cy="1152.4" rx="2.5" ry="2.5"/>
</g>
<line x1="1627.4" y1="1268.2" x2="1683" y2="1268.2" stroke="#000" stroke-width="3.8" />
<text x="1915.3" y="1284.2" font-size="58.5">1<tspan font-style="italic" dx="6">μm</tspan></text>
<line x1="1944.7" y1="1307.4" x2="1987.6" y2="1307.4" stroke="#000" stroke-width="3.6" />
</g>
<g clip-path="url(#clipD)">
<line x1="1221.3" y1="1365.7" x2="1556.3" y2="1365.7" stroke="#e20c38" stroke-width="4" stroke-dasharray="14.5 8.8"/>
<line x1="1458" y1="1452.8" x2="2042.2" y2="1452.8" stroke="#e20c38" stroke-width="4" stroke-dasharray="14.3 9.2"/>
<polyline points="1217.4,1373.9 1233.7,1378 1256.1,1388.2 1278.6,1372.9 1300,1367.8 1324.5,1388.2 1347,1372.9 1368.4,1352.5 1391.9,1384.1 1412.3,1353.5 1435.8,1332.1 1441.9,1367.8 1450.1,1410.7 1458.3,1451.5 1467.5,1458.6 1481.7,1468.9 1503.2,1474 1526.7,1455.6 1549.1,1441.3 1570.6,1438.2 1594,1449.5 1616.5,1475 1638.4,1472.9 1660.8,1456.6 1684.3,1467.8 1706.8,1458.6 1728.2,1445.4 1751.7,1463.7 1774.1,1465.4 1796.6,1449.5 1819.1,1439.9 1841.5,1440.3 1864,1458.6 1886.4,1438.8 1908.9,1439.7 1931.4,1468.9 1953.8,1469.9 1976.3,1466.8 1999.7,1454.6 2017.1,1461.7 2038.5,1467.4" fill="none" stroke="#000" stroke-width="4.1" stroke-linejoin="round" stroke-linecap="butt" />
</g>
<line x1="1513.6" y1="1256.9" x2="1513.6" y2="1349" stroke="#f80000" stroke-width="3.5" />
<polygon points="1507.6,1347.2 1519.6,1347.2 1513.6,1361.6" fill="#f80000"/>
<line x1="1513.6" y1="1561.7" x2="1513.6" y2="1469" stroke="#f80000" stroke-width="3.5" />
<polygon points="1507.6,1470 1519.6,1470 1513.6,1455.8" fill="#f80000"/>
<text x="1321.8" y="1273.3" font-size="59" text-anchor="start" fill="#f40000"  style="">0.76nm</text>
<line x1="1316" y1="1622" x2="1316" y2="1608.5" stroke="#000" stroke-width="5" />
<line x1="1481.1" y1="1622" x2="1481.1" y2="1615.5" stroke="#000" stroke-width="5" />
<line x1="1646.2" y1="1622" x2="1646.2" y2="1608.5" stroke="#000" stroke-width="5" />
<line x1="1811.3" y1="1622" x2="1811.3" y2="1615.5" stroke="#000" stroke-width="5" />
<line x1="1976.4" y1="1622" x2="1976.4" y2="1608.5" stroke="#000" stroke-width="5" />
<rect x="1218" y="938" width="824.2" height="684" fill="none" stroke="#000" stroke-width="4.8"/>
<text transform="translate(1316,1689.7) scale(1,1.025)" font-size="68.2" text-anchor="middle">0.5</text>
<text transform="translate(1646.2,1689.7) scale(1,1.025)" font-size="68.2" text-anchor="middle">1.0</text>
<text transform="translate(1976.4,1689.7) scale(1,1.025)" font-size="68.2" text-anchor="middle">1.5</text>
<text x="1629.2" y="1763" font-size="67.2" text-anchor="middle" fill="#000"  style="">Distance (μm)</text>
<text transform="translate(1157.8,1262.5) rotate(-90)" font-size="67.2" text-anchor="middle">Height (nm)</text>
</svg>
</body></html>
